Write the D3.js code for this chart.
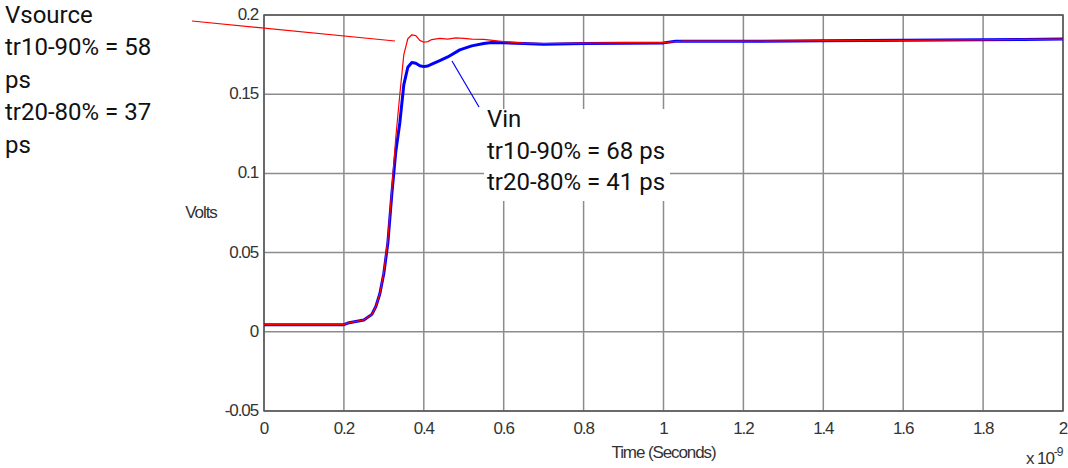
<!DOCTYPE html>
<html>
<head>
<meta charset="utf-8">
<script src="https://cdn.jsdelivr.net/npm/d3@7"></script>
<style>
  body { margin: 0; background: #fff; }
  svg { display: block; }
  .tick-label { font-family: "Liberation Sans", Arial, sans-serif; font-size: 17px; fill: #333; letter-spacing: -1.1px; }
  .note { font-family: Roboto, "Noto Sans", sans-serif; font-size: 24px; fill: #111; }
</style>
</head>
<body>
<svg id="chart" width="1068" height="468"></svg>
<script>
// time in ns, values in volts
var srcTime = [0, 0.2, 0.21, 0.25, 0.27, 0.28, 0.29, 0.30, 0.31, 0.32, 0.33, 0.34, 0.35, 0.36, 0.37, 0.38, 0.39, 0.40, 0.41, 0.42, 0.44, 0.46, 0.48, 0.5, 0.52, 0.55, 0.6, 0.65, 0.7, 0.8, 0.9, 1.0, 1.05, 1.2, 1.4, 1.6, 1.8, 1.9, 2.0];
var srcVolts = [0.0045, 0.0045, 0.0055, 0.0075, 0.011, 0.016, 0.024, 0.038, 0.058, 0.090, 0.123, 0.150, 0.175, 0.185, 0.1875, 0.187, 0.184, 0.1828, 0.1832, 0.1845, 0.1852, 0.1848, 0.1855, 0.1852, 0.1848, 0.1846, 0.1832, 0.1822, 0.182, 0.1823, 0.1825, 0.1826, 0.1836, 0.1835, 0.1838, 0.184, 0.1843, 0.1846, 0.1848];

var inTime = [0, 0.2, 0.21, 0.25, 0.27, 0.28, 0.29, 0.30, 0.31, 0.32, 0.33, 0.34, 0.35, 0.36, 0.37, 0.38, 0.39, 0.40, 0.41, 0.42, 0.44, 0.46, 0.49, 0.52, 0.55, 0.57, 0.6, 0.65, 0.7, 0.8, 0.9, 1.0, 1.03, 1.2, 1.4, 1.6, 1.8, 1.9, 2.0];
var inVolts = [0.0045, 0.0045, 0.0055, 0.0075, 0.011, 0.016, 0.024, 0.037, 0.056, 0.087, 0.114, 0.132, 0.156, 0.167, 0.170, 0.1695, 0.168, 0.1674, 0.1678, 0.169, 0.1712, 0.1735, 0.178, 0.1805, 0.182, 0.1826, 0.1825, 0.182, 0.1815, 0.182, 0.1822, 0.1824, 0.1834, 0.1834, 0.1837, 0.184, 0.1843, 0.1846, 0.1848];

var xTicks = [0, 0.2, 0.4, 0.6, 0.8, 1, 1.2, 1.4, 1.6, 1.8, 2];
var yTicks = [-0.05, 0, 0.05, 0.1, 0.15, 0.2];

var srcNote = ["Vsource", "tr10-90% = 58", "ps", "tr20-80% = 37", "ps"];
var inNote = ["Vin", "tr10-90% = 68 ps", "tr20-80% = 41 ps"];

var margin = {left: 264, top: 15, right: 5, bottom: 57};
var width = 1068 - margin.left - margin.right,
    height = 468 - margin.top - margin.bottom;

var svg = d3.select("#chart");
var g = svg.append("g").attr("transform", "translate(" + margin.left + "," + margin.top + ")");

var x = d3.scaleLinear().domain([0, 2]).range([0, width]);
var y = d3.scaleLinear().domain([-0.05, 0.2]).range([height, 0]);

// grid
g.selectAll(".vgrid").data(xTicks).enter().append("line")
  .attr("x1", d => x(d)).attr("x2", d => x(d))
  .attr("y1", 0).attr("y2", height)
  .attr("stroke", "#8c8c8c").attr("stroke-width", 1.5);
g.selectAll(".hgrid").data(yTicks).enter().append("line")
  .attr("y1", d => y(d)).attr("y2", d => y(d))
  .attr("x1", 0).attr("x2", width)
  .attr("stroke", "#8c8c8c").attr("stroke-width", 1.5);

// box
g.append("rect").attr("width", width).attr("height", height)
  .attr("fill", "none").attr("stroke", "#555").attr("stroke-width", 1.5);

// tick labels (plain hyphen for negatives, like the original)
g.selectAll(".xl").data(xTicks).enter().append("text")
  .attr("class", "tick-label")
  .attr("x", d => x(d)).attr("y", height + 23)
  .attr("text-anchor", "middle")
  .text(d => String(d));
g.selectAll(".yl").data(yTicks).enter().append("text")
  .attr("class", "tick-label")
  .attr("x", -6).attr("y", d => y(d) + 5)
  .attr("text-anchor", "end")
  .text(d => String(d));

// axis titles
svg.append("text").attr("class", "tick-label")
  .attr("x", margin.left + width / 2).attr("y", 458)
  .attr("text-anchor", "middle").text("Time (Seconds)");
svg.append("text").attr("class", "tick-label")
  .attr("x", 201).attr("y", 218)
  .attr("text-anchor", "middle").text("Volts");
var xm = svg.append("text").attr("class", "tick-label")
  .attr("x", 1026).attr("y", 464);
xm.append("tspan").text("x 10");
xm.append("tspan").attr("dy", -8).attr("font-size", 12).text("-9");

// curves
var line = d3.line().x(d => x(d[0])).y(d => y(d[1]));
var inData = d3.zip(inTime, inVolts);
var srcData = d3.zip(srcTime, srcVolts);

g.append("path").datum(inData).attr("d", line)
  .attr("fill", "none").attr("stroke", "#0000ff").attr("stroke-width", 3)
  .attr("stroke-linejoin", "round");
g.append("path").datum(srcData).attr("d", line)
  .attr("fill", "none").attr("stroke", "#ff0000").attr("stroke-width", 1.2)
  .attr("stroke-linejoin", "round");

// annotation leaders
svg.append("line").attr("x1", 192).attr("y1", 21).attr("x2", 395).attr("y2", 41)
  .attr("stroke", "#ff0000").attr("stroke-width", 1.2);
svg.append("line").attr("x1", 452).attr("y1", 61).attr("x2", 479).attr("y2", 107)
  .attr("stroke", "#0000ff").attr("stroke-width", 1.2);

// Vin note with white box
svg.append("rect").attr("x", 484).attr("y", 109).attr("width", 186).attr("height", 92)
  .attr("fill", "#fff");
svg.selectAll(".innote").data(inNote).enter().append("text")
  .attr("class", "note")
  .attr("x", 487).attr("y", (d, i) => 127 + i * 31.5)
  .text(d => d);

svg.selectAll(".srcnote").data(srcNote).enter().append("text")
  .attr("class", "note")
  .attr("x", 5).attr("y", (d, i) => 23 + i * 32.4)
  .text(d => d);
</script>
</body>
</html>
